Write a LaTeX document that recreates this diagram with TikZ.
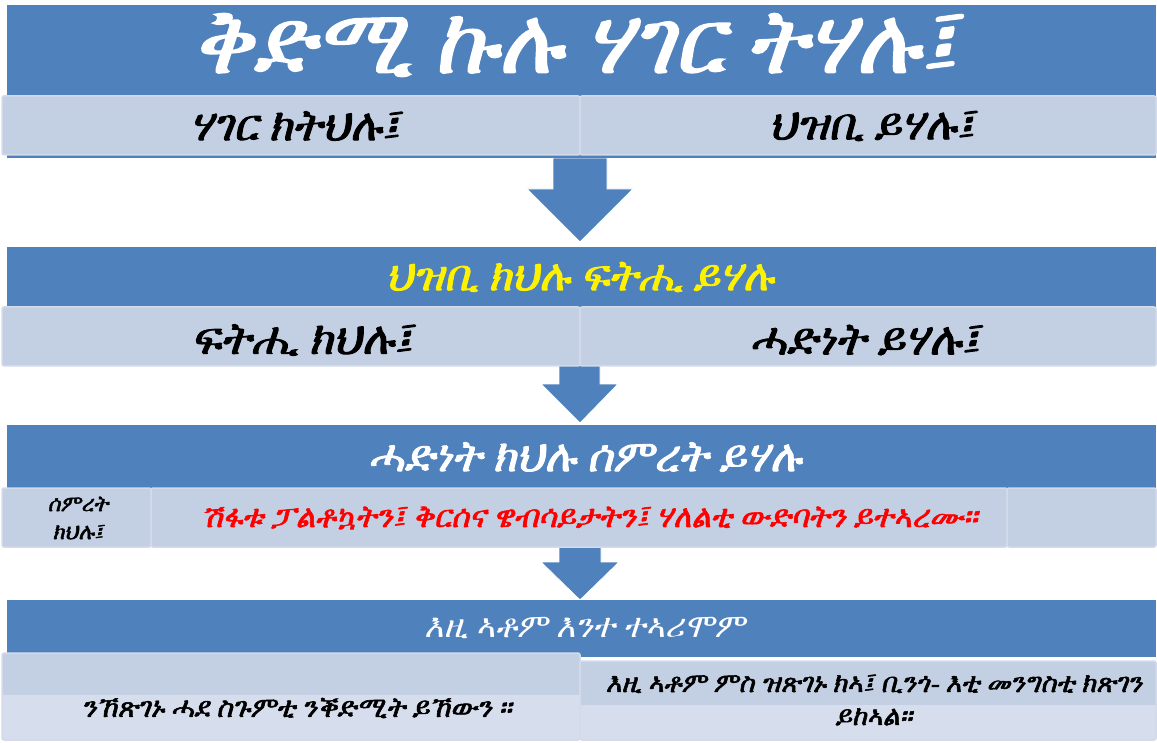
\documentclass[tikz,border=0pt]{standalone}
\usepackage{fontspec}
\newfontfamily\geez[FakeSlant=0.2,FakeBold=2]{FreeSerif}
\newfontfamily\geezl[FakeSlant=0.2]{FreeSerif}
\definecolor{b1}{HTML}{4F81BD}
\definecolor{l1}{HTML}{C3CFE3}
\definecolor{l2}{HTML}{D3DBEA}
\definecolor{l3}{HTML}{D6DDEC}
\tikzset{
  cell/.style={draw=l2,line width=1.5pt,rounded corners=2pt},
  blockarrow/.style={fill=b1,draw=white,line width=0.8pt},
  txt/.style={align=center,inner sep=0pt}
}

\begin{document}
\begin{tikzpicture}[x=1pt,y=-1pt]
\useasboundingbox[fill=white] (0,0) rectangle (1157,743);
\draw[blockarrow] (553,158) -- (607,158) -- (607,189) -- (633,189) -- (580,242) -- (527,189) -- (553,189) -- cycle;
\draw[blockarrow] (559,360) -- (600,360) -- (600,384) -- (618,384) -- (580,423) -- (541,384) -- (559,384) -- cycle;
\draw[blockarrow] (559,540) -- (601,540) -- (601,562) -- (619,562) -- (580,600) -- (541,562) -- (559,562) -- cycle;
\fill[b1] (7,5) rectangle (1156,158);
\draw[cell,fill=l1] (2,96) rectangle (580,155);
\draw[cell,fill=l1] (580,96) rectangle (1156,155);
\fill[b1] (7,247) rectangle (1156,308);
\draw[cell,fill=l1] (2,307) rectangle (580,366);
\draw[cell,fill=l1] (580,307) rectangle (1156,366);
\fill[b1] (7,425) rectangle (1156,488);
\draw[cell,fill=l1] (2,488) rectangle (151,547);
\draw[cell,fill=l1] (151,488) rectangle (1007,547);
\draw[cell,fill=l1] (1007,488) rectangle (1156,547);
\fill[b1] (7,600) rectangle (1156,657);
\fill[l1] (2,653) rectangle (580,695);
\fill[l3] (2,695) rectangle (580,740);
\draw[cell] (2,653) rectangle (580,740);
\fill[l1] (580,661) rectangle (1156,705);
\fill[l3] (580,705) rectangle (1156,740);
\draw[cell] (580,661) rectangle (1156,740);
\node[txt,text=white,font={\geez\fontsize{90}{90}\selectfont}] (title) at (575,45) {ቅድሚ ኩሉ ሃገር ትሃሉ፤};
\node[txt,font={\geez\fontsize{44}{44}\selectfont}] (r1a) at (295,126) {ሃገር ክትህሉ፤};
\node[txt,font={\geez\fontsize{44}{44}\selectfont}] (r1b) at (872,126) {ህዝቢ ይሃሉ፤};
\node[txt,text=yellow,font={\geez\fontsize{43}{43}\selectfont}] (h2) at (580,277) {ህዝቢ ክህሉ ፍትሒ ይሃሉ};
\node[txt,font={\geez\fontsize{45}{45}\selectfont}] (r2a) at (302,340) {ፍትሒ ክህሉ፤};
\node[txt,font={\geez\fontsize{45}{45}\selectfont}] (r2b) at (865,340) {ሓድነት ይሃሉ፤};
\node[txt,text=white,font={\geez\fontsize{44}{44}\selectfont}] (h3) at (585,457) {ሓድነት ክህሉ ሰምረት ይሃሉ};
\node[txt,font={\geez\fontsize{22}{28}\selectfont}] (r3a) at (78,518) {ሰምረት\\ክህሉ፤};
\node[txt,text=red,font={\geez\fontsize{31}{31}\selectfont}] (r3b) at (590,518) {ሽፋቱ ፓልቶኳትን፤ ቅርሰና ዌብሳይታትን፤ ሃለልቲ ውድባትን ይተኣረሙ።};
\node[txt,text=white,font={\geezl\fontsize{33}{33}\selectfont}] (h4) at (585,628) {እዚ ኣቶም እንተ ተኣሪሞም};
\node[txt,font={\geez\fontsize{28}{28}\selectfont}] (r4a) at (297,708) {ንኸጽገኑ ሓደ ስጉምቲ ንቕድሚት ይኸውን ።};
\node[txt,font={\geez\fontsize{27}{33}\selectfont}] (r4b) at (874,700) {እዚ ኣቶም ምስ ዝጽገኑ ክኣ፤ ቢንጎ- እቲ መንግስቲ ክጽገን\\ይከኣል።};
\end{tikzpicture}
\end{document}
